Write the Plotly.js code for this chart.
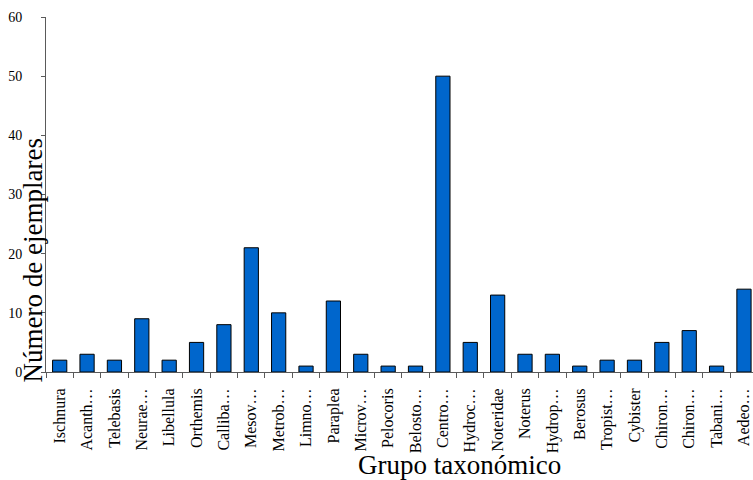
<!DOCTYPE html>
<html>
<head>
<meta charset="utf-8">
<script src="https://cdn.plot.ly/plotly-3.0.1.min.js"></script>
<style>
  html, body { margin: 0; padding: 0; background: #ffffff; }
  #chart { width: 753px; height: 480px; }
</style>
</head>
<body>
<div id="chart"></div>
<script>
// Taxonomic groups (abbreviated as shown on the axis)
const grupos = [
  "Ischnura", "Acanth…", "Telebasis", "Neurae…", "Libellula", "Orthemis",
  "Calliba…", "Mesov…", "Metrob…", "Limno…", "Paraplea", "Microv…",
  "Pelocoris", "Belosto…", "Centro…", "Hydroc…", "Noteridae", "Noterus",
  "Hydrop…", "Berosus", "Tropist…", "Cybister", "Chiron…", "Chiron…",
  "Tabani…", "Aedeo…"
];

// Number of specimens per group
const ejemplares = [
  2, 3, 2, 9, 2, 5,
  8, 21, 10, 1, 12, 3,
  1, 1, 50, 5, 13, 3,
  3, 1, 2, 2, 5, 7,
  1, 14
];

const yTicks = [0, 10, 20, 30, 40, 50, 60];

// Positions along the category axis (two groups share the same short label)
const posiciones = grupos.map((_, i) => i);

const serif = "Liberation Serif, Times New Roman, serif";

const trace = {
  type: "bar",
  x: posiciones,
  y: ejemplares,
  marker: { color: "#0066CC", line: { color: "#000000", width: 1 } },
  hoverinfo: "skip"
};

const layout = {
  width: 753,
  height: 480,
  margin: { l: 46, r: 0, t: 17, b: 108 },
  paper_bgcolor: "#ffffff",
  plot_bgcolor: "#ffffff",
  showlegend: false,
  bargap: 0.48,
  font: { family: serif, color: "#000000" },
  xaxis: {
    range: [-0.5, 25.33],
    tickmode: "array",
    tickvals: posiciones,
    ticktext: grupos,
    tickangle: -90,
    ticks: "",
    ticklabelstandoff: 9,
    tickfont: { family: serif, size: 16, color: "#000000" },
    showgrid: false,
    zeroline: false,
    showline: true,
    linecolor: "#5a5a5a",
    linewidth: 1,
    minor: {
      tickmode: "linear",
      tick0: -0.5,
      dtick: 1,
      ticks: "outside",
      ticklen: 5,
      tickcolor: "#5a5a5a",
      tickwidth: 1,
      showgrid: false
    },
    fixedrange: true
  },
  yaxis: {
    range: [0, 60],
    tickmode: "array",
    tickvals: yTicks,
    ticktext: yTicks.map(String),
    ticks: "outside",
    ticklen: 4,
    tickcolor: "#5a5a5a",
    ticklabelstandoff: 16,
    tickfont: { family: serif, size: 14, color: "#000000" },
    showgrid: false,
    zeroline: false,
    showline: true,
    linecolor: "#5a5a5a",
    linewidth: 1,
    fixedrange: true
  },
  annotations: [
    {
      text: "Número de ejemplares",
      xref: "paper", yref: "paper",
      x: -0.018, y: 0.315,
      xanchor: "center", yanchor: "middle",
      textangle: -90,
      showarrow: false,
      font: { family: serif, size: 27, color: "#000000" }
    },
    {
      text: "Grupo taxonómico",
      xref: "paper", yref: "paper",
      x: 0.585, y: -0.262,
      xanchor: "center", yanchor: "middle",
      showarrow: false,
      font: { family: serif, size: 27, color: "#000000" }
    }
  ]
};

Plotly.newPlot("chart", [trace], layout, { displayModeBar: false, staticPlot: true });
</script>
</body>
</html>
